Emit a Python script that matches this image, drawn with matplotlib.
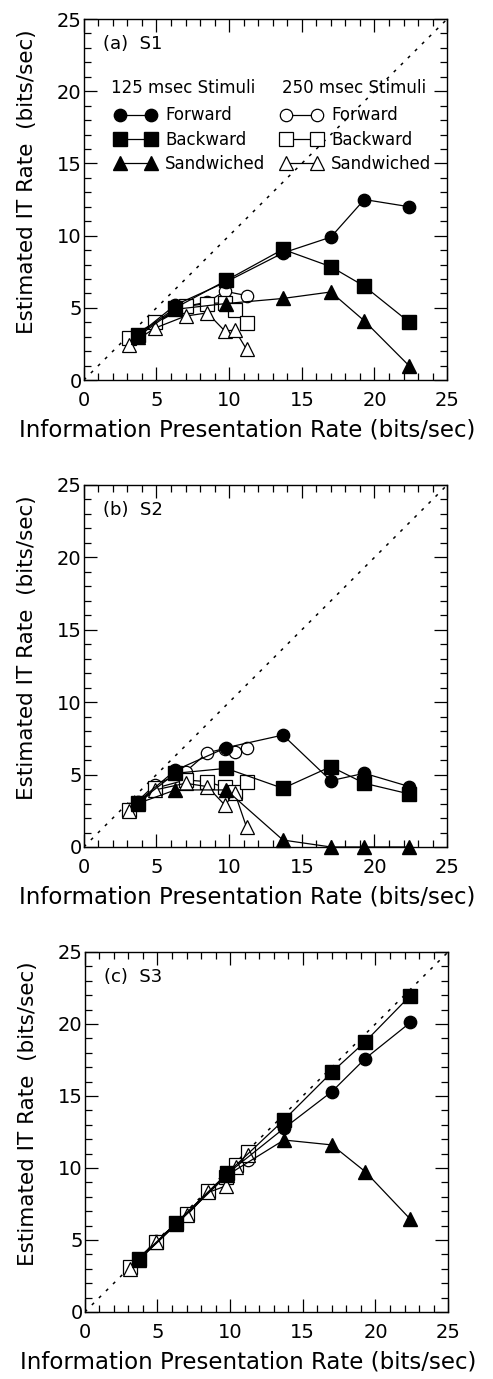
import matplotlib
matplotlib.use('Agg')
import matplotlib.pyplot as plt
from matplotlib.ticker import MultipleLocator

plt.rcParams['font.family'] = ['DejaVu Sans']

# information presentation rates (bits/sec)
x125 = [3.7, 6.3, 9.8, 13.7, 17.0, 19.3, 22.4]
x250 = [3.1, 4.9, 7.0, 8.5, 9.7, 10.4, 11.2]
x250_s1_fwd = [3.1, 4.9, 7.0, 8.5, 9.7, 11.2]

# (a) S1
s1_fwd125 = [3.1, 5.2, 6.8, 8.8, 9.9, 12.5, 12.0]
s1_bwd125 = [3.1, 5.0, 6.9, 9.05, 7.85, 6.5, 4.0]
s1_sand125 = [3.0, 4.9, 5.3, 5.65, 6.1, 4.1, 0.97]
s1_fwd250 = [2.9, 3.9, 5.1, 5.4, 6.15, 5.85]
s1_bwd250 = [2.9, 4.0, 5.1, 5.3, 5.35, 4.85, 3.97]
s1_sand250 = [2.42, 3.6, 4.43, 4.65, 3.4, 3.46, 2.12]

# (b) S2
s2_fwd125 = [3.1, 5.3, 6.86, 7.73, 4.58, 5.09, 4.17]
s2_bwd125 = [3.06, 5.09, 5.43, 4.05, 5.55, 4.4, 3.66]
s2_sand125 = [3.0, 3.94, 3.94, 0.48, 0.0, 0.0, 0.0]
s2_fwd250 = [2.6, 4.3, 5.2, 6.51, 6.8, 6.58, 6.81]
s2_bwd250 = [2.56, 4.05, 4.63, 4.51, 4.12, 3.82, 4.47]
s2_sand250 = [2.5, 3.94, 4.4, 4.17, 2.9, 3.7, 1.36]

# (c) S3
s3_fwd125 = [3.6, 6.1, 9.6, 12.75, 15.3, 17.6, 20.1]
s3_bwd125 = [3.66, 6.2, 9.63, 13.33, 16.65, 18.77, 21.97]
s3_sand125 = [3.6, 6.1, 9.5, 11.94, 11.6, 9.74, 6.44]
s3_fwd250 = [3.1, 4.9, 6.8, 8.4, 9.4, 10.2, 10.55]
s3_bwd250 = [3.15, 4.88, 6.8, 8.43, 9.4, 10.2, 11.09]
s3_sand250 = [3.0, 4.85, 6.7, 8.3, 8.75, 10.1, 10.9]

panels = [
    ('(a)  S1', x250_s1_fwd, s1_fwd125, s1_bwd125, s1_sand125, s1_fwd250, s1_bwd250, s1_sand250),
    ('(b)  S2', x250, s2_fwd125, s2_bwd125, s2_sand125, s2_fwd250, s2_bwd250, s2_sand250),
    ('(c)  S3', x250, s3_fwd125, s3_bwd125, s3_sand125, s3_fwd250, s3_bwd250, s3_sand250),
]
boxes = [[0.170, 0.7244, 0.737, 0.2618],
         [0.170, 0.3858, 0.737, 0.2625],
         [0.172, 0.0486, 0.737, 0.2611]]

fig = plt.figure(figsize=(4.93, 13.79), dpi=100)

for i, (tag, xf250, f125, b125, s125, f250, b250, s250) in enumerate(panels):
    ax = fig.add_axes(boxes[i])
    ax.plot([0, 25], [0, 25], color='black', lw=1.1, linestyle=(0, (2, 4.5)), zorder=1)

    kw = dict(color='black', lw=0.9, clip_on=False, zorder=3)
    ofw = ax.plot(xf250, f250, marker='o', ms=8.9, mfc='white', mec='black', mew=0.9, **kw)[0]
    obw = ax.plot(x250, b250, marker='s', ms=9.4, mfc='white', mec='black', mew=0.9, **kw)[0]
    osw = ax.plot(x250, s250, marker='^', ms=10, mfc='white', mec='black', mew=0.9, **kw)[0]
    ffw = ax.plot(x125, f125, marker='o', ms=8.9, mfc='black', mec='black', **kw)[0]
    fbw = ax.plot(x125, b125, marker='s', ms=9.4, mfc='black', mec='black', **kw)[0]
    fsw = ax.plot(x125, s125, marker='^', ms=10, mfc='black', mec='black', **kw)[0]

    ax.set_xlim(0, 25)
    ax.set_ylim(0, 25)
    for axis in (ax.xaxis, ax.yaxis):
        axis.set_major_locator(MultipleLocator(5))
        axis.set_minor_locator(MultipleLocator(1))
    ax.tick_params(which='both', direction='in', top=True, right=True, width=0.9, labelsize=14)
    ax.tick_params(which='major', length=9.5)
    ax.tick_params(which='minor', length=4.7)
    ax.tick_params(axis='x', pad=8)
    ax.tick_params(axis='y', pad=1.5)
    for sp in ax.spines.values():
        sp.set_linewidth(1.0)

    ax.set_xlabel('Information Presentation Rate (bits/sec)', fontsize=16.5, labelpad=6, x=0.45)
    ax.set_ylabel('Estimated IT Rate  (bits/sec)', fontsize=15.5, labelpad=14, y=0.55)
    ax.text(0.052, 0.931, tag, transform=ax.transAxes, fontsize=13, va='center')

    if i == 0:
        ax.text(0.076, 0.809, '125 msec Stimuli', transform=ax.transAxes, fontsize=12, va='center')
        ax.text(0.546, 0.809, '250 msec Stimuli', transform=ax.transAxes, fontsize=12, va='center')
        ax.legend([ffw, fbw, fsw, ofw, obw, osw],
                  ['Forward', 'Backward', 'Sandwiched'] * 2,
                  ncol=2, loc='upper left', bbox_to_anchor=(0.085, 0.758),
                  frameon=False, fontsize=12, numpoints=2, handlelength=2.5,
                  handletextpad=0.54, columnspacing=0.9, labelspacing=0.38,
                  borderpad=0, borderaxespad=0)

fig.savefig('out.png', dpi=100)
